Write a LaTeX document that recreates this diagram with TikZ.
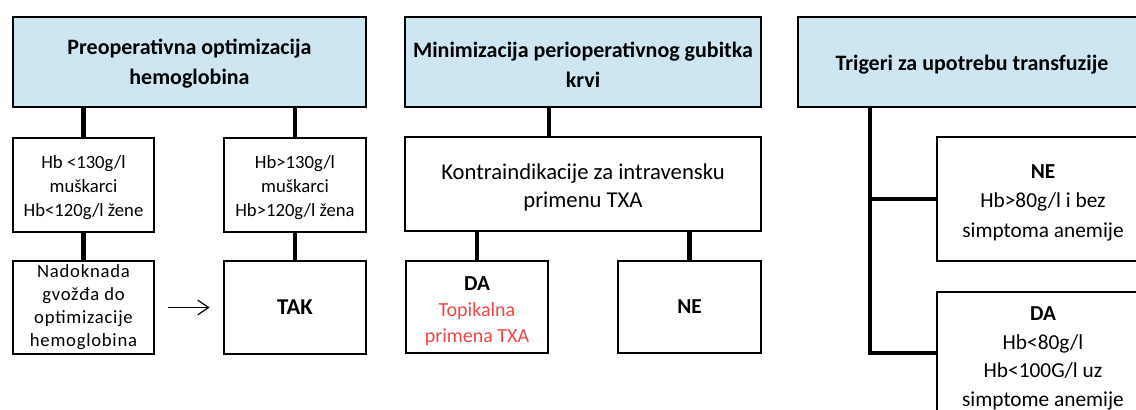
\documentclass[tikz,border=0pt]{standalone}
\usepackage{fontspec}
\setmainfont{Carlito}
\usetikzlibrary{arrows.meta}
\definecolor{hdrblue}{RGB}{206,230,242}
\definecolor{txared}{RGB}{238,70,70}
\newcommand\topstrut[1]{\rule{0pt}{#1}}
\begin{document}
\begin{tikzpicture}[x=0.75pt,y=-0.75pt,
  wh/.style 2 args={minimum width=#1*0.75pt, minimum height=#2*0.75pt},
  box/.style={draw=black, line width=2.2pt, rectangle, inner sep=0pt, align=center, font=\fontsize{14}{18}\selectfont},
  hdr/.style={box, fill=hdrblue, font=\fontsize{16.5}{22.5}\selectfont\bfseries},
  conn/.style={line width=3.4pt},
  arrowline/.style={line width=0.9pt, -{Straight Barb[length=8pt,width=11pt,line width=0.9pt]}, shorten <=9.75pt, shorten >=9.75pt},
]
\useasboundingbox (0,0) rectangle (1136,410);
\clip (0,0) rectangle (1136,410);
% column 1
\node[hdr, wh={353}{90}] (H1) at (189.5,62) {\topstrut{14.5pt}Preoperativna optimizacija\\hemoglobina};
\node[box, wh={141}{94}] (A1) at (83.5,185) {\topstrut{14.3pt}Hb <130g/l\\muškarci\\Hb<120g/l žene};
\node[box, wh={142}{94}] (B1) at (295,185) {\topstrut{14.3pt}Hb>130g/l\\muškarci\\Hb>120g/l žena};
\node[box, wh={141}{93}, font=\fontsize{14}{17.25}\selectfont\addfontfeature{LetterSpace=4}] (A2) at (83.5,307.5) {Nadoknada\\gvožđa do\\optimizacije\\hemoglobina};
\node[box, wh={142}{93}, font=\fontsize{17}{20}\selectfont\bfseries] (B2) at (295,307.5) {TAK};
% column 2
\node[hdr, wh={356}{90}] (H2) at (583,62) {\topstrut{16pt}Minimizacija perioperativnog gubitka\\krvi};
\node[box, wh={356}{94}, font=\fontsize{17}{21}\selectfont] (C2) at (583,184) {\topstrut{17.1pt}Kontraindikacije za intravensku\\primenu TXA};
\node[box, wh={142}{92}, font=\fontsize{15}{19.5}\selectfont] (D2) at (477,307) {{\fontsize{16}{19.5}\selectfont\bfseries\topstrut{16.9pt}DA}\\\textcolor{txared}{Topikalna}\\\textcolor{txared}{primena TXA}};
\node[box, wh={143}{92}, font=\fontsize{16}{20}\selectfont\bfseries] (E2) at (689.5,307) {NE};
% column 3
\node[hdr, wh={348}{90}] (H3) at (972,62) {\topstrut{16pt}Trigeri za upotrebu transfuzije};
\node[box, wh={212}{124}, font=\fontsize{16}{22}\selectfont] (N3) at (1043,199) {\topstrut{16.1pt}\textbf{NE}\\Hb>80g/l i bez\\simptoma anemije};
\node[box, wh={212}{122}, font=\fontsize{16}{21.5}\selectfont] (D3) at (1043,353) {\topstrut{18.5pt}\textbf{DA}\\Hb<80g/l\\Hb<100G/l uz\\simptome anemije};
% connectors column 1
\draw[conn] (H1.south -| A1.north) -- (A1.north);
\draw[conn] (H1.south -| B1.north) -- (B1.north);
\draw[conn] (A1) -- (A2);
\draw[conn] (B1) -- (B2);
\draw[arrowline] (A2) -- (B2);
% connectors column 2
\coordinate (m2) at (549,0);
\draw[conn] (H2.south -| m2) -- (C2.north -| m2);
\draw[conn] (C2.south -| D2.north) -- (D2.north);
\draw[conn] (C2.south -| E2.north) -- (E2.north);
% connectors column 3
\coordinate (T) at (870,0);
\draw[conn] (H3.south -| T) -- (T |- D3.west) -- (D3.west);
\draw[conn] (T |- N3.west) -- (N3.west);
\end{tikzpicture}
\end{document}
